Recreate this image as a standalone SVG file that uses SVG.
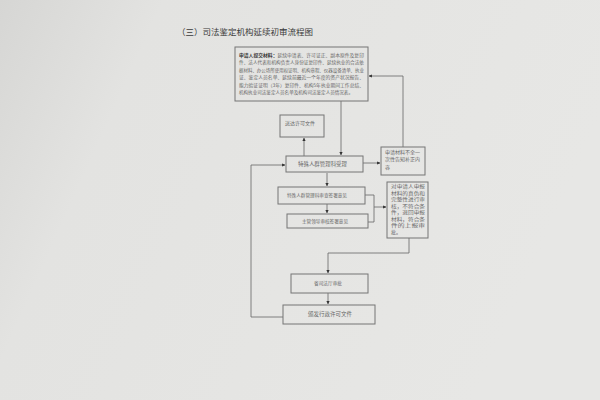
<svg xmlns="http://www.w3.org/2000/svg" width="600" height="400" viewBox="0 0 600 400">
<defs>
<linearGradient id="bg" x1="0" y1="0" x2="1" y2="0.3">
<stop offset="0" stop-color="#d6d6d4"/>
<stop offset="0.25" stop-color="#e3e3e1"/>
<stop offset="1" stop-color="#e7e7e5"/>
</linearGradient>
<marker id="ah" viewBox="0 0 6 6" refX="5.5" refY="3" markerWidth="4" markerHeight="4" orient="auto">
<path d="M0,0 L6,3 L0,6 z" fill="#333"/>
</marker>
</defs>
<style>
.box{fill:none;stroke:#757575;stroke-width:1}
.line{fill:none;stroke:#666;stroke-width:0.8}
.t{font-family:"Noto Sans CJK SC","Noto Sans",sans-serif;fill:#686868}
</style>
<rect x="0" y="0" width="600" height="400" fill="url(#bg)"/>
<text class="t" x="177" y="35" font-size="8.5" style="fill:#3a3a3a">（三）司法鉴定机构延续初审流程图</text>

<g id="connectors">
<path class="line" d="M341,101 V155" marker-end="url(#ah)"/>
<path class="line" d="M304,156 V138" marker-end="url(#ah)"/>
<path class="line" d="M363,163 H380" marker-end="url(#ah)"/>
<path class="line" d="M403,147 V76 H369" marker-end="url(#ah)"/>
<path class="line" d="M327,173 V186" marker-end="url(#ah)"/>
<path class="line" d="M327,204 V213" marker-end="url(#ah)"/>
<path class="line" d="M365,195 H374 V222 H368"/>
<path class="line" d="M374,207 H386" marker-end="url(#ah)"/>
<path class="line" d="M409,238 V253 H328 V273" marker-end="url(#ah)"/>
<path class="line" d="M328,293 V304" marker-end="url(#ah)"/>
<path class="line" d="M283,317 H251 V165 H285" marker-end="url(#ah)"/>
</g>

<g id="n_submit">
<rect class="box" x="235" y="47" width="133" height="54"/>
<text class="t" font-size="4.6" x="239" y="57" textLength="125" lengthAdjust="spacingAndGlyphs"><tspan font-weight="bold" style="fill:#333">申请人提交材料：</tspan>延续申请表、许可证正、副本原件及复印</text>
<text class="t" font-size="4.6" x="239" y="64.4" textLength="125" lengthAdjust="spacingAndGlyphs">件、法人代表和机构负责人身份证复印件、延续执业的合法依</text>
<text class="t" font-size="4.6" x="239" y="71.8" textLength="125" lengthAdjust="spacingAndGlyphs">据材料、办公场所使用权证明、机构章程、仪器设备清单、执业</text>
<text class="t" font-size="4.6" x="239" y="79.2" textLength="125" lengthAdjust="spacingAndGlyphs">证、鉴定人员名单、延续前最近一个年度的资产状况报告、</text>
<text class="t" font-size="4.6" x="239" y="86.6" textLength="125" lengthAdjust="spacingAndGlyphs">能力验证证明（3年）复印件、机构5年执业期间工作总结、</text>
<text class="t" font-size="4.6" x="239" y="94" textLength="114" lengthAdjust="spacingAndGlyphs">机构执业司法鉴定人员名单及机构司法鉴定人员情况表。</text>
</g>

<g id="n_deliver">
<rect class="box" x="280" y="115" width="44" height="22"/>
<text class="t" font-size="5" x="285" y="125" textLength="30" lengthAdjust="spacingAndGlyphs">送达许可文件</text>
</g>

<g id="n_accept">
<rect class="box" x="286" y="156" width="77" height="16"/>
<text class="t" font-size="5.2" x="298" y="166" textLength="49" lengthAdjust="spacingAndGlyphs">特殊人群管理科受理</text>
</g>

<g id="n_incomplete">
<rect class="box" x="381" y="147" width="44" height="28"/>
<text class="t" font-size="5" x="385" y="154" textLength="35" lengthAdjust="spacingAndGlyphs">申请材料不全一</text>
<text class="t" font-size="5" x="385" y="161" textLength="35" lengthAdjust="spacingAndGlyphs">次性告知补正内</text>
<text class="t" font-size="5" x="385" y="169">容</text>
</g>

<g id="n_review">
<rect class="box" x="278" y="187" width="87" height="17"/>
<text class="t" font-size="4.7" x="287" y="197" textLength="60" lengthAdjust="spacingAndGlyphs">特殊人群管理科审查签署意见</text>
</g>

<g id="n_leader">
<rect class="box" x="287" y="214" width="81" height="14"/>
<text class="t" font-size="4.7" x="302" y="223" textLength="46" lengthAdjust="spacingAndGlyphs">主管领导审核签署意见</text>
</g>

<g id="n_check">
<rect class="box" x="387" y="182" width="41" height="56"/>
<text class="t" font-size="5" x="391" y="188" textLength="34" lengthAdjust="spacingAndGlyphs">对申请人申报</text>
<text class="t" font-size="5" x="391" y="194.5" textLength="34" lengthAdjust="spacingAndGlyphs">材料的真伪和</text>
<text class="t" font-size="5" x="391" y="201" textLength="34" lengthAdjust="spacingAndGlyphs">完整性进行审</text>
<text class="t" font-size="5" x="391" y="207.5" textLength="34" lengthAdjust="spacingAndGlyphs">核，不符合条</text>
<text class="t" font-size="5" x="391" y="214" textLength="34" lengthAdjust="spacingAndGlyphs">件，退回申报</text>
<text class="t" font-size="5" x="391" y="220.5" textLength="34" lengthAdjust="spacingAndGlyphs">材料，符合条</text>
<text class="t" font-size="5" x="391" y="227" textLength="34" lengthAdjust="spacingAndGlyphs">件的上报审</text>
<text class="t" font-size="5" x="391" y="233.5">批。</text>
</g>

<g id="n_approve">
<rect class="box" x="291" y="274" width="77" height="19"/>
<text class="t" font-size="4.8" x="314" y="285" textLength="28" lengthAdjust="spacingAndGlyphs">省司法厅审批</text>
</g>

<g id="n_issue">
<rect class="box" x="283" y="305" width="92" height="19"/>
<text class="t" font-size="5.3" x="308" y="316" textLength="44" lengthAdjust="spacingAndGlyphs">颁发行政许可文件</text>
</g>
</svg>
